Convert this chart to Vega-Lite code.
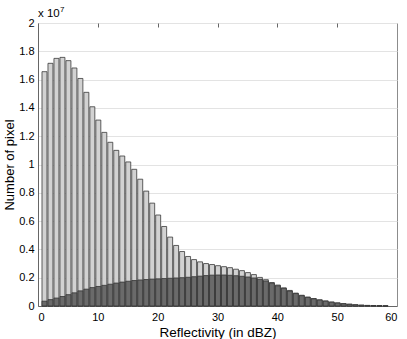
{
  "$schema": "https://vega.github.io/schema/vega-lite/v6.json",
  "autosize": {"type": "none"},
  "width": 359,
  "height": 283,
  "padding": {"left": 38, "top": 23, "right": 10, "bottom": 33},
  "background": "white",
  "config": {
    "font": "Liberation Sans",
    "view": {"stroke": "#8c8c8c", "strokeWidth": 1},
    "axis": {"labelFont": "Liberation Sans", "titleFont": "Liberation Sans", "labelColor": "#000", "titleColor": "#000", "titleFontWeight": "normal"}
  },
  "resolve": {"axis": {"x": "independent", "y": "independent"}},
  "data": {"values": [
    {"lo":0.5,"hi":1.5,"total":16560000,"sub":340000},
    {"lo":1.5,"hi":2.5,"total":17150000,"sub":450000},
    {"lo":2.5,"hi":3.5,"total":17500000,"sub":560000},
    {"lo":3.5,"hi":4.5,"total":17570000,"sub":670000},
    {"lo":4.5,"hi":5.5,"total":17340000,"sub":800000},
    {"lo":5.5,"hi":6.5,"total":16820000,"sub":930000},
    {"lo":6.5,"hi":7.5,"total":16080000,"sub":1070000},
    {"lo":7.5,"hi":8.5,"total":15100000,"sub":1190000},
    {"lo":8.5,"hi":9.5,"total":14080000,"sub":1300000},
    {"lo":9.5,"hi":10.5,"total":13140000,"sub":1380000},
    {"lo":10.5,"hi":11.5,"total":12270000,"sub":1460000},
    {"lo":11.5,"hi":12.5,"total":11570000,"sub":1540000},
    {"lo":12.5,"hi":13.5,"total":11000000,"sub":1620000},
    {"lo":13.5,"hi":14.5,"total":10600000,"sub":1690000},
    {"lo":14.5,"hi":15.5,"total":10180000,"sub":1750000},
    {"lo":15.5,"hi":16.5,"total":9660000,"sub":1800000},
    {"lo":16.5,"hi":17.5,"total":8960000,"sub":1840000},
    {"lo":17.5,"hi":18.5,"total":8120000,"sub":1870000},
    {"lo":18.5,"hi":19.5,"total":7270000,"sub":1900000},
    {"lo":19.5,"hi":20.5,"total":6430000,"sub":1920000},
    {"lo":20.5,"hi":21.5,"total":5620000,"sub":1940000},
    {"lo":21.5,"hi":22.5,"total":4870000,"sub":1960000},
    {"lo":22.5,"hi":23.5,"total":4280000,"sub":1980000},
    {"lo":23.5,"hi":24.5,"total":3850000,"sub":2000000},
    {"lo":24.5,"hi":25.5,"total":3500000,"sub":2030000},
    {"lo":25.5,"hi":26.5,"total":3280000,"sub":2070000},
    {"lo":26.5,"hi":27.5,"total":3120000,"sub":2110000},
    {"lo":27.5,"hi":28.5,"total":3000000,"sub":2150000},
    {"lo":28.5,"hi":29.5,"total":2930000,"sub":2180000},
    {"lo":29.5,"hi":30.5,"total":2850000,"sub":2190000},
    {"lo":30.5,"hi":31.5,"total":2780000,"sub":2190000},
    {"lo":31.5,"hi":32.5,"total":2710000,"sub":2170000},
    {"lo":32.5,"hi":33.5,"total":2600000,"sub":2140000},
    {"lo":33.5,"hi":34.5,"total":2500000,"sub":2100000},
    {"lo":34.5,"hi":35.5,"total":2360000,"sub":2050000},
    {"lo":35.5,"hi":36.5,"total":2220000,"sub":1980000},
    {"lo":36.5,"hi":37.5,"total":2020000,"sub":1890000},
    {"lo":37.5,"hi":38.5,"total":1860000,"sub":1770000},
    {"lo":38.5,"hi":39.5,"total":1660000,"sub":1610000},
    {"lo":39.5,"hi":40.5,"total":1480000,"sub":1430000},
    {"lo":40.5,"hi":41.5,"total":1280000,"sub":1250000},
    {"lo":41.5,"hi":42.5,"total":1100000,"sub":1060000},
    {"lo":42.5,"hi":43.5,"total":910000,"sub":880000},
    {"lo":43.5,"hi":44.5,"total":760000,"sub":730000},
    {"lo":44.5,"hi":45.5,"total":630000,"sub":610000},
    {"lo":45.5,"hi":46.5,"total":530000,"sub":510000},
    {"lo":46.5,"hi":47.5,"total":440000,"sub":420000},
    {"lo":47.5,"hi":48.5,"total":360000,"sub":340000},
    {"lo":48.5,"hi":49.5,"total":280000,"sub":270000},
    {"lo":49.5,"hi":50.5,"total":220000,"sub":210000},
    {"lo":50.5,"hi":51.5,"total":170000,"sub":160000},
    {"lo":51.5,"hi":52.5,"total":130000,"sub":120000},
    {"lo":52.5,"hi":53.5,"total":90000,"sub":85000},
    {"lo":53.5,"hi":54.5,"total":60000,"sub":57000},
    {"lo":54.5,"hi":55.5,"total":40000,"sub":38000},
    {"lo":55.5,"hi":56.5,"total":30000,"sub":28000},
    {"lo":56.5,"hi":57.5,"total":20000,"sub":18000},
    {"lo":57.5,"hi":58.5,"total":10000,"sub":9000}
  ]},
  "layer": [
    {
      "mark": {"type": "bar", "fill": "#d2d2d2", "stroke": "#3a3a3a", "strokeWidth": 0.8},
      "encoding": {
        "x": {"field": "lo", "bin": "binned", "type": "quantitative",
              "scale": {"domain": [0, 60], "nice": false},
              "axis": {"orient": "bottom", "title": "Reflectivity (in dBZ)", "values": [0,10,20,30,40,50,60], "format": "d",
                       "labelFontSize": 11, "titleFontSize": 13.5, "ticks": false, "labelPadding": 5, "titlePadding": 3,
                       "domainColor": "#666", "grid": false, "labelOverlap": false}},
        "x2": {"field": "hi"},
        "y": {"field": "total", "type": "quantitative",
              "scale": {"domain": [0, 20000000], "nice": false},
              "axis": {"orient": "left", "title": "Number of pixel", "values": [0,2000000,4000000,6000000,8000000,10000000,12000000,14000000,16000000,18000000,20000000],
                       "labelExpr": "format(datum.value/1e7, '.1~f')", "labelFontSize": 11, "titleFontSize": 13,
                       "ticks": false, "labelPadding": 4, "titlePadding": 2, "domainColor": "#666", "labelOverlap": false,
                       "grid": true, "gridColor": "#e3e3e3", "gridWidth": 1}}
      }
    },
    {
      "mark": {"type": "bar", "fill": "#6a6a6a", "stroke": "#333333", "strokeWidth": 0.8},
      "encoding": {
        "x": {"field": "lo", "bin": "binned", "type": "quantitative",
              "axis": {"orient": "top", "title": null, "labels": false, "ticks": true, "tickSize": -4, "tickColor": "#666",
                       "values": [10,20,30,40,50], "domain": false, "grid": false}},
        "x2": {"field": "hi"},
        "y": {"field": "sub", "type": "quantitative", "axis": null}
      }
    },
    {
      "data": {"values": [{"label": "x 10"}]},
      "mark": {"type": "text", "align": "left", "baseline": "alphabetic", "dy": -6, "fontSize": 11.5, "font": "Liberation Sans", "color": "#000"},
      "encoding": {
        "x": {"datum": 0, "type": "quantitative", "axis": null},
        "y": {"datum": 20000000, "type": "quantitative", "axis": null},
        "text": {"field": "label"}
      }
    },
    {
      "data": {"values": [{"exp": "7"}]},
      "mark": {"type": "text", "align": "left", "baseline": "alphabetic", "dx": 22, "dy": -11, "fontSize": 8, "font": "Liberation Sans", "color": "#000"},
      "encoding": {
        "x": {"datum": 0, "type": "quantitative", "axis": null},
        "y": {"datum": 20000000, "type": "quantitative", "axis": null},
        "text": {"field": "exp"}
      }
    }
  ]
}
